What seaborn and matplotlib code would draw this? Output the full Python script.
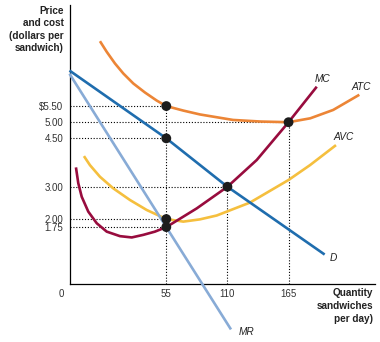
import matplotlib
matplotlib.use("Agg")
import matplotlib.pyplot as plt
import seaborn as sns
import pandas as pd

# ---- data (quantity, price) ----
atc_q = [-4.7, 1.4, 8.8, 16.3, 25.3, 35.8, 46.4, 55, 70.3, 85.3, 115.0, 140, 165, 184.5, 205.2, 228.7]
atc_p = [7.51, 7.18, 6.82, 6.51, 6.20, 5.92, 5.67, 5.50, 5.36, 5.24, 5.07, 5.02, 5.00, 5.12, 5.38, 5.85]

mc_q = [-26.3, -24.2, -21.1, -15.2, -7.6, 1.4, 13.3, 23.9, 34.3, 44.8, 55, 82.4, 110, 136.4, 165, 190.4]
mc_p = [3.60, 3.11, 2.69, 2.23, 1.87, 1.61, 1.47, 1.43, 1.51, 1.61, 1.75, 2.33, 3.00, 3.83, 5.00, 6.10]

avc_q = [-19.1, -13.7, -4.7, 7.3, 22.3, 37.4, 55, 70.3, 85.3, 100.4, 130.3, 165, 184.3, 207.7]
avc_p = [3.95, 3.67, 3.31, 2.95, 2.59, 2.28, 2.00, 1.92, 1.99, 2.11, 2.51, 3.21, 3.67, 4.29]

d_q = [-32.1, 55, 110, 197.5]
d_p = [6.60, 4.50, 3.00, 0.90]

mr_q = [-32.1, 55, 113.2]
mr_p = [6.50, 1.75, -1.42]

dot_q = [55, 55, 55, 55, 110, 165]
dot_p = [5.50, 4.50, 2.00, 1.75, 3.00, 5.00]

ytick_vals = [5.50, 5.00, 4.50, 3.00, 2.00, 1.75]
ytick_labels = ["$5.50", "5.00", "4.50", "3.00", "2.00", "1.75"]
xtick_vals = [55, 110, 165]
xtick_labels = ["55", "110", "165"]

# horizontal guides: (price, quantity reached)
hguide_p = [5.50, 5.00, 4.50, 3.00, 2.00, 1.75]
hguide_q = [55, 165, 55, 110, 55, 55]
# vertical guides: (quantity, price reached)
vguide_q = [55, 110, 165]
vguide_p = [5.50, 3.00, 5.00]

XMIN, XMAX = -32.1, 242.8
YMIN, YMAX = 0, 8.64

sns.set_style("white")
plt.rcParams["font.family"] = ["Liberation Sans", "DejaVu Sans"]

fig = plt.figure(figsize=(3.8, 3.42), dpi=100)
ax = fig.add_axes([69.5 / 380, 58.4 / 342, (375 - 69.5) / 380, (283.6 - 4.7) / 342])

lw = 1.9
curves = [
    (atc_q, atc_p, "#EC8536"),
    (avc_q, avc_p, "#F5BF3E"),
    (d_q, d_p, "#1F6DAE"),
    (mr_q, mr_p, "#88ABD6"),
    (mc_q, mc_p, "#980C3E"),
]
for q, p, c in curves:
    df = pd.DataFrame({"q": q, "p": p})
    sns.lineplot(data=df, x="q", y="p", sort=False, estimator=None, color=c,
                 lw=lw, ax=ax, clip_on=False, zorder=3)
for line in ax.get_lines():
    line.set_solid_joinstyle("round")
    line.set_solid_capstyle("butt")

dot_style = dict(color="black", lw=0.8, ls=(0, (1, 1.6)), zorder=2)
for p, q in zip(hguide_p, hguide_q):
    ax.plot([XMIN, q], [p, p], **dot_style)
for q, p in zip(vguide_q, vguide_p):
    ax.plot([q, q], [YMIN, p], **dot_style)

sns.scatterplot(x=dot_q, y=dot_p, s=50, color="#1c1c1c", edgecolor="none", ax=ax, zorder=5)

ax.set_xlim(XMIN, XMAX)
ax.set_ylim(YMIN, YMAX)
ax.set_xticks(xtick_vals)
ax.set_xticklabels(xtick_labels)
ax.set_yticks(ytick_vals)
ax.set_yticklabels(ytick_labels)
ax.tick_params(axis="both", length=0, labelsize=7.0, labelcolor="#333333")
ax.tick_params(axis="y", pad=4.5)
ax.tick_params(axis="x", pad=4.2)
ax.set_xlabel("")
ax.set_ylabel("")
for s in ["top", "right"]:
    ax.spines[s].set_visible(False)
for s in ["left", "bottom"]:
    ax.spines[s].set_color("black")
    ax.spines[s].set_linewidth(0.9)

ax.annotate("0", xy=(0, 0), xycoords="axes fraction", xytext=(-6.1, -4.2),
            textcoords="offset points", ha="center", va="top", fontsize=7.0, color="#333333")

lab = dict(fontsize=7.3, style="italic", color="#222222", ha="center", va="center")
ax.text(195.9, 6.33, "MC", **lab)
ax.text(230.3, 6.09, "ATC", **lab)
ax.text(214.3, 4.53, "AVC", **lab)
ax.text(205.0, 0.80, "D", **lab)
ax.text(127.0, -1.50, "MR", **lab)

fig.text(63.5 / 380, 1 - 5.5 / 342, "Price\nand cost\n(dollars per\nsandwich)",
         ha="right", va="top", fontsize=7.2, fontweight="bold", color="#222222", linespacing=1.32)
fig.text(373 / 380, 1 - 288.5 / 342, "Quantity\nsandwiches\nper day)",
         ha="right", va="top", fontsize=7.2, fontweight="bold", color="#222222", linespacing=1.32)

fig.savefig("out.png", dpi=100)
